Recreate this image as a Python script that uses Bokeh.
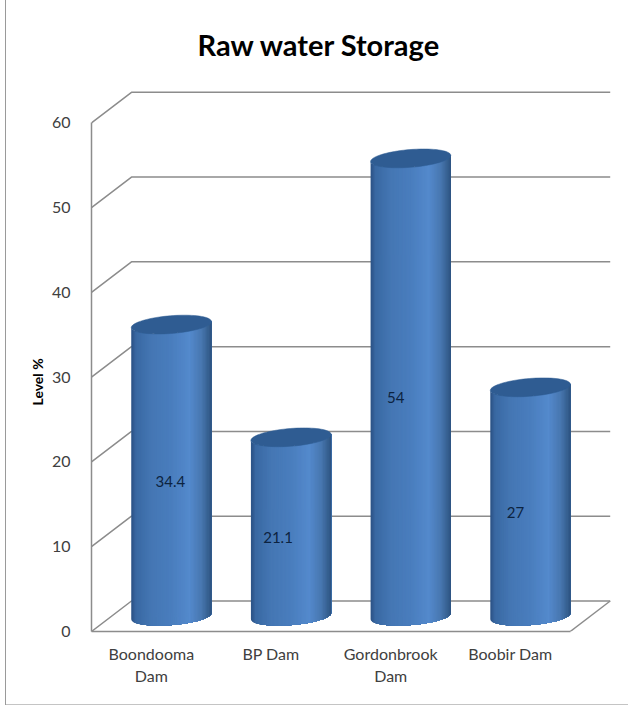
import numpy as np
from bokeh.plotting import figure
from bokeh.models import FixedTicker, ColumnDataSource, Title
from bokeh.core.properties import value
from bokeh.embed import file_html
from bokeh.resources import INLINE

# ---- data ----
categories = ["Boondooma\nDam", "BP Dam", "Gordonbrook\nDam", "Boobir Dam"]
levels = [34.4, 21.1, 54, 27]
value_labels = ["34.4", "21.1", "54", "27"]
y_ticks = [0, 10, 20, 30, 40, 50, 60]
title_text = "Raw water Storage"
y_title = "Level %"

# ---- 3-D look (style only) ----
X_END, Y_END = 4.42, 64.4
DX, DY = 0.334, 3.6          # depth of the box in axis units
HALF_W = 0.335               # cylinder half-width in category units
ELL_B, ELL_K = 1.05, 0.36    # ellipse half-height and tilt in value units
label_nudge = [-1, -13, -15, -15]  # px, data labels sit left of cylinder centre
GRID = "#8c8c8c"
STOPS_U = [-1.0, -0.88, -0.5, 0.0, 0.45, 0.75, 0.92, 1.0]
STOPS_R = [0x2b, 0x3a, 0x45, 0x4a, 0x54, 0x48, 0x36, 0x2c]
STOPS_G = [0x52, 0x69, 0x77, 0x7e, 0x8a, 0x77, 0x60, 0x52]
STOPS_B = [0x85, 0xa3, 0xb4, 0xbe, 0xcd, 0xb0, 0x90, 0x80]

p = figure(width=628, height=706, output_backend="svg", toolbar_location=None,
           x_range=(0, X_END), y_range=(0, Y_END),
           min_border_left=91, min_border_right=8, min_border_top=85, min_border_bottom=75,
           outline_line_color=None, background_fill_color="white", border_fill_alpha=0)
p.grid.visible = False
# the picture's thin frame on the left and at the bottom
p.styles = {"background": "linear-gradient(#9a9a9a,#9a9a9a) 5px 0/1px 705px no-repeat, "
                          "linear-gradient(#c4c4c4,#c4c4c4) 5px 704px/623px 1px no-repeat"}

# title
p.title.text = title_text
p.title.text_font = "Lato"
p.title.text_font_style = "bold"
p.title.text_font_size = "29px"
p.title.text_color = "#000000"
p.title.align = "left"
p.title.offset = 106
p.title.standoff = 47

# axes
ya = p.yaxis[0]
ya.ticker = FixedTicker(ticks=y_ticks)
ya.bounds = (0, 60)
ya.axis_line_color = GRID
ya.axis_line_width = 1.5
ya.major_tick_line_color = None
ya.minor_tick_line_color = None
ya.major_label_text_font = "Lato"
ya.major_label_text_font_size = "16px"
ya.major_label_text_color = "#404040"
ya.major_label_standoff = 15

xa = p.xaxis[0]
xa.ticker = FixedTicker(ticks=[i + 0.5 for i in range(len(categories))])
xa.major_label_overrides = {i + 0.5: c for i, c in enumerate(categories)}
xa.bounds = (0, len(categories))
xa.axis_line_color = GRID
xa.axis_line_width = 1.5
xa.major_tick_line_color = None
xa.minor_tick_line_color = None
xa.major_label_text_font = "Lato"
xa.major_label_text_font_size = "16px"
xa.major_label_text_color = "#404040"
xa.major_label_standoff = 6

# back wall + floor
n = len(categories)
for t in y_ticks:
    p.line([0, DX, n + DX], [t, t + DY, t + DY], line_color=GRID, line_width=1.5)
p.line([n, n + DX], [0, DY], line_color=GRID, line_width=1.5)

# cylinders, from thin strips so that the shading runs across the width
us = np.linspace(-1, 1, 61)
mid = (us[:-1] + us[1:]) / 2
cols = ["#%02x%02x%02x" % (int(np.interp(m, STOPS_U, STOPS_R)),
                           int(np.interp(m, STOPS_U, STOPS_G)),
                           int(np.interp(m, STOPS_U, STOPS_B))) for m in mid]


def front(u):
    return -ELL_B * np.sqrt(np.clip(1 - u * u, 0, 1)) + ELL_K * u


fine = np.linspace(-1, 1, 201)
for i, lv in enumerate(levels):
    cx = i + 0.5 + DX / 2
    base = DY / 2
    top = lv + DY / 2
    xs, ys = [], []
    for j in range(len(us) - 1):
        # each strip runs on to the right-hand edge, the next one paints over it
        seg = fine[fine >= us[j] - 1e-9]
        xs.append(np.concatenate([cx + HALF_W * seg, cx + HALF_W * seg[::-1]]))
        ys.append(np.concatenate([top + front(seg), base + front(seg[::-1])]))
    p.patches(xs, ys, fill_color=cols, line_color=None)
    t = np.linspace(0, 2 * np.pi, 80)
    p.patch(cx + HALF_W * np.cos(t), top + ELL_B * np.sin(t) + ELL_K * np.cos(t),
            fill_color="#2f5c92", line_color="#2f5c92", line_width=0.5)

# value labels
src = ColumnDataSource(dict(
    x=[i + 0.5 + DX / 2 for i in range(n)],
    y=[v / 2 + 0.55 for v in levels],
    t=value_labels,
    off=label_nudge,
))
p.text("x", "y", text="t", x_offset="off", source=src, text_font=value("Lato"),
       text_font_size="15px", text_color="#0c2340", text_align="center", text_baseline="middle")

# y title
p.add_layout(Title(text=y_title, align="left", offset=226, standoff=6, text_font="Lato",
                   text_font_style="bold", text_font_size="14px", text_color="#000000"), "left")

open("out.html", "w").write(file_html(p, INLINE))
